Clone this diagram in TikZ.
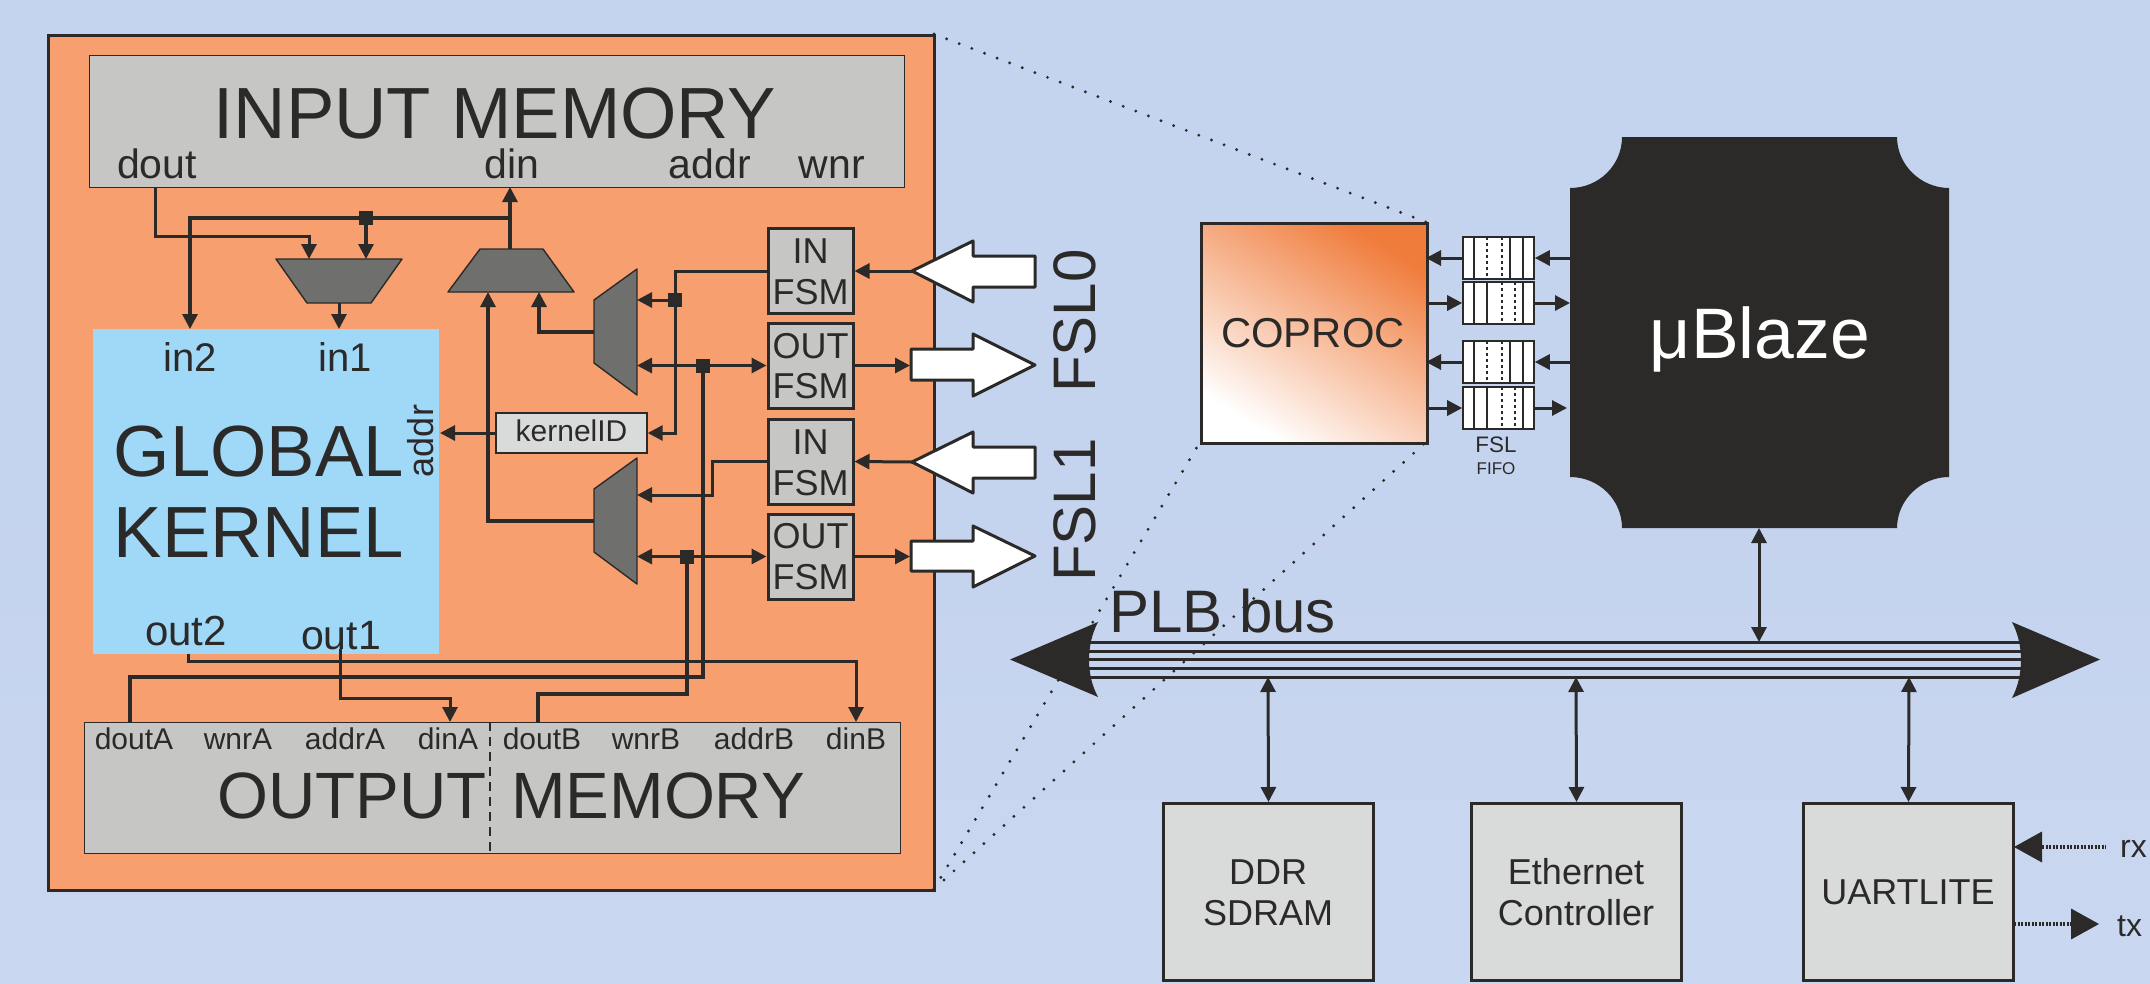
\documentclass[tikz,border=0pt]{standalone}
\usepackage{fontspec}
\setmainfont{Liberation Sans}
\usetikzlibrary{arrows.meta}
\definecolor{bgc}{HTML}{C4D3EE}
\definecolor{bgd}{HTML}{CAD7F0}
\definecolor{orangec}{HTML}{F79F6E}
\definecolor{kern}{HTML}{A0D8F8}
\definecolor{memc}{HTML}{C6C7C5}
\definecolor{boxc}{HTML}{D9DBDA}
\definecolor{muxc}{HTML}{6F6F6E}
\definecolor{ink}{HTML}{2B2A29}
\definecolor{hot}{HTML}{F07C3C}
\newcommand{\fs}[1]{\fontsize{#1pt}{#1pt}\selectfont}
\tikzset{
  x=1pt,y=-1pt,
  wire/.style={draw=ink,line width=3.2pt},
  thin wire/.style={draw=ink,line width=3pt},
  tip/.style={-{Triangle[length=15pt,width=15pt]}},
  tips/.style={{Triangle[length=15pt,width=15pt]}-{Triangle[length=15pt,width=15pt]}},
  mem/.style={draw=ink,line width=1.4pt,fill=memc,inner sep=0pt,rectangle},
  fsm/.style={draw=ink,line width=3pt,fill=memc,inner sep=0pt,rectangle,minimum width=85pt,minimum height=85pt},
  per/.style={draw=ink,line width=3pt,fill=boxc,inner sep=0pt,rectangle,minimum width=210pt,minimum height=177pt,align=center,font=\fs{36}},
  mux/.style={draw=ink,line width=1.4pt,fill=muxc,line join=round},
  dot/.style={fill=ink,inner sep=0pt,minimum size=14pt,rectangle},
  txt/.style={text=ink,inner sep=0pt,anchor=base},
  zoomline/.style={draw=ink,line width=3.2pt,line cap=round,dash pattern=on 0pt off 13.5pt},
  fifo/.style={draw=ink,line width=1.6pt,fill=white,inner sep=0pt,rectangle,minimum width=71pt,minimum height=42pt},
  arrowwhite/.style={draw=ink,line width=3pt,fill=white,line join=round},
}
\begin{document}
\begin{tikzpicture}
\useasboundingbox (0,0) rectangle (2150,983);
\shade[top color=bgc,bottom color=bgd,middle color=bgc] (0,0) rectangle (2150,983);
% outer coprocessor
\node[draw=ink,line width=3.4pt,fill=orangec,inner sep=0pt,rectangle,anchor=north west,minimum width=886pt,minimum height=855pt] (outer) at (46.5,34) {};
% input memory
\node[mem,anchor=north west,minimum width=815pt,minimum height=132pt] (inmem) at (89,55) {};
\node[txt,font=\fs{72.5}] (inmemt) at (495,138) {INPUT MEMORY};
\node[txt,font=\fs{41}] (ldout) at (157,178) {dout};
\node[txt,font=\fs{41}] (ldin) at (512,178) {din};
\node[txt,font=\fs{41}] (laddr) at (710,178) {addr};
\node[txt,font=\fs{41}] (lwnr) at (832,178) {wnr};
% kernel
\node[fill=kern,inner sep=0pt,rectangle,anchor=north west,minimum width=346pt,minimum height=325pt] (kernel) at (93,329) {};
\node[txt,font=\fs{40}] (lin2) at (190,371) {in2};
\node[txt,font=\fs{40}] (lin1) at (345,371) {in1};
\node[txt,font=\fs{72.5},anchor=base west] (kg) at (113.5,476) {GLOBAL};
\node[txt,font=\fs{72.5},anchor=base west] (kk) at (113.5,557) {KERNEL};
\node[txt,font=\fs{36},rotate=90] (kaddr) at (433,441) {addr};
\node[txt,font=\fs{42}] (lout2) at (186,645) {out2};
\node[txt,font=\fs{41}] (lout1) at (341,649) {out1};
% output memory
\node[mem,anchor=north west,minimum width=816pt,minimum height=131pt] (outmem) at (84,722) {};
\draw[draw=ink,line width=2.4pt,dash pattern=on 9pt off 6pt] (490,722) -- (490,853);
\node[txt,font=\fs{65.5}] (ot1) at (352,818) {OUTPUT};
\node[txt,font=\fs{65.5}] (ot2) at (658,818) {MEMORY};
\foreach \t/\x in {doutA/134,wnrA/238,addrA/345,dinA/448,doutB/542,wnrB/646,addrB/754,dinB/856}
  \node[txt,font=\fs{30}] (p\t) at (\x,749) {\t};
% muxes
\draw[mux] (276,259) -- (402,259) -- (371,303) -- (307,303) -- cycle;
\coordinate (m1a) at (309,259); \coordinate (m1b) at (366,259); \coordinate (m1o) at (339,303);
\draw[mux] (480,249) -- (543,249) -- (574,292) -- (448,292) -- cycle;
\coordinate (m2a) at (488,292); \coordinate (m2b) at (539,292); \coordinate (m2o) at (510,249);
\draw[mux] (594,300) -- (637,269) -- (637,395) -- (594,363) -- cycle;
\draw[mux] (594,489) -- (637,458) -- (637,584) -- (594,552) -- cycle;
% fsm
\node[fsm] (f1) at (810.5,271) {};
\node[fsm] (f2) at (810.5,365.5) {};
\node[fsm] (f3) at (810.5,461.5) {};
\node[fsm] (f4) at (810.5,556.5) {};
\node[txt,font=\fs{36}] (t1a) at (810.5,263) {IN};
\node[txt,font=\fs{36}] (t1b) at (810.5,304) {FSM};
\node[txt,font=\fs{36}] (t2a) at (810.5,358) {OUT};
\node[txt,font=\fs{36}] (t2b) at (810.5,398) {FSM};
\node[txt,font=\fs{36}] (t3a) at (810.5,454) {IN};
\node[txt,font=\fs{36}] (t3b) at (810.5,495) {FSM};
\node[txt,font=\fs{36}] (t4a) at (810.5,548) {OUT};
\node[txt,font=\fs{36}] (t4b) at (810.5,589) {FSM};
% kernelID
\node[draw=ink,line width=1.4pt,fill=boxc,inner sep=0pt,rectangle,minimum width=151pt,minimum height=40pt] (kid) at (571.5,433) {};
\node[txt,font=\fs{30}] (kidt) at (571.5,441) {kernelID};
% wires: input memory
\coordinate (kin2) at (190,329); \coordinate (kin1) at (339,329);
\draw[thin wire,tip] (155,187) -- (155,236) -- (309,236) -- (m1a);
\draw[wire,tip] (510,218) -- (190,218) -- (kin2);
\node[dot] (j1) at (366,218) {};
\draw[wire,tip] (j1.center) -- (m1b);
\draw[thin wire,tip] (m1o) -- (kin1);
\draw[wire,tip] (m2o) -- (510,187);
\draw[wire,tip] (594,521) -- (488,521) -- (m2a);
\draw[wire,tip] (594,332) -- (539,332) -- (m2b);
% fsm wires
\draw[thin wire,tip] (f1.west) -- (675,271) -- (675,433) -- (kid.east);
\node[dot] (j2) at (675,300) {};
\draw[thin wire,tip] (j2.center) -- (637,300);
\draw[thin wire,tips] (637,365.5) -- (f2.west);
\node[dot] (j3) at (703,365.5) {};
\draw[wire] (j3.center) -- (703,677) -- (130,677) -- (130,722);
\draw[thin wire,tip] (f3.west) -- (712,461.5) -- (712,495) -- (637,495);
\draw[thin wire,tips] (637,556.5) -- (f4.west);
\node[dot] (j4) at (687,556.5) {};
\draw[wire] (j4.center) -- (687,694) -- (538,694) -- (538,722);
\draw[thin wire,tip] (kid.west) -- (440,433);
\draw[thin wire,tip] (188,654) -- (188,661) -- (856,661) -- (856,722);
\draw[thin wire,tip] (340,649) -- (340,698) -- (450,698) -- (450,722);
% white arrows
\draw[arrowwhite] (912,271) -- (973,241) -- (973,256) -- (1035,256) -- (1035,287) -- (973,287) -- (973,302) -- cycle;
\draw[arrowwhite] (912,462) -- (973,432) -- (973,447) -- (1035,447) -- (1035,478) -- (973,478) -- (973,493) -- cycle;
\draw[arrowwhite] (1035,365) -- (973,334) -- (973,349) -- (911,349) -- (911,380) -- (973,380) -- (973,396) -- cycle;
\draw[arrowwhite] (1035,556) -- (973,526) -- (973,541) -- (911,541) -- (911,571) -- (973,571) -- (973,587) -- cycle;
\coordinate (w1) at (912,271); \coordinate (w2) at (910,365.5); \coordinate (w3) at (912,462); \coordinate (w4) at (910,556.5);
\draw[thin wire,tip] (w1) -- (f1.east);
\draw[thin wire,tip] (f2.east) -- (w2);
\draw[thin wire,tip] (w3) -- (f3.east);
\draw[thin wire,tip] (f4.east) -- (w4);
\node[txt,font=\fs{60},rotate=90] (fsl0) at (1095,321) {FSL0};
\node[txt,font=\fs{60},rotate=90] (fsl1) at (1095,510) {FSL1};
% zoom lines
\draw[zoomline] (934,34) -- (1426,222);
\draw[zoomline] (934,889) -- (1200,442);
\draw[zoomline] (934,889) -- (1426,442);
% coproc
\path[shade,shading=axis,top color=hot,bottom color=white,shading angle=-32] (1200,222) rectangle (1426,442);
\node[draw=ink,line width=3.4pt,inner sep=0pt,rectangle,anchor=north west,minimum width=226pt,minimum height=220pt] (cop) at (1200,222) {};
\node[txt,font=\fs{41.8}] (copt) at (1313,347) {COPROC};
% fifos
\foreach \n/\y in {a/258,c/362}{
  \node[fifo] (fifo\n) at (1498.5,\y) {};
  \draw[ink,line width=1.6pt] (1474,\y-21) -- (1474,\y+21) (1510,\y-21) -- (1510,\y+21) (1523,\y-21) -- (1523,\y+21);
  \draw[ink,line width=1.1pt,dash pattern=on 3pt off 3pt] (1487,\y-21) -- (1487,\y+21) (1502,\y-21) -- (1502,\y+21);
}
\foreach \n/\y in {b/303,d/408}{
  \node[fifo] (fifo\n) at (1498.5,\y) {};
  \draw[ink,line width=1.6pt] (1474,\y-21) -- (1474,\y+21) (1487,\y-21) -- (1487,\y+21) (1523,\y-21) -- (1523,\y+21);
  \draw[ink,line width=1.1pt,dash pattern=on 3pt off 3pt] (1502,\y-21) -- (1502,\y+21) (1515,\y-21) -- (1515,\y+21);
}
\node[txt,font=\fs{22.4}] (lf1) at (1496,452) {FSL};
\node[txt,font=\fs{17}] (lf2) at (1496,474) {FIFO};
% ublaze
\fill[ink] (1622,137) -- (1897,137) .. controls (1897,165) and (1921,188) .. (1949,188)
  -- (1949,477) .. controls (1921,477) and (1897,500) .. (1897,528)
  -- (1622,528) .. controls (1622,500) and (1599,477) .. (1570,477)
  -- (1570,188) .. controls (1599,188) and (1622,165) .. (1622,137) -- cycle;
\coordinate (ub) at (1759,528);
\node[txt,font=\fs{71.5},text=white] (ubt) at (1760,358) {μBlaze};
\coordinate (ubl1) at (1570,258); \coordinate (ubl2) at (1570,303); \coordinate (ubl3) at (1570,362); \coordinate (ubl4) at (1567,408);
\draw[thin wire,tip] (ubl1) -- (fifoa.east);
\draw[thin wire,tip] (fifob.east) -- (ubl2);
\draw[thin wire,tip] (ubl3) -- (fifoc.east);
\draw[thin wire,tip] (fifod.east) -- (ubl4);
\draw[thin wire,tip] (fifoa.west) -- (1426,258);
\draw[thin wire,tip] (1426,303) -- (fifob.west);
\draw[thin wire,tip] (fifoc.west) -- (1426,362);
\draw[thin wire,tip] (1426,408) -- (fifod.west);
% bus
\fill[ink] (1010,659.5) -- (1098,622) .. controls (1086,645) and (1086,675) .. (1098,697) -- cycle;
\fill[ink] (2100,659.5) -- (2012,622) .. controls (2024,645) and (2024,675) .. (2012,698) -- cycle;
\foreach \y in {642,651,659.5,668,677}
  \draw[ink,line width=3pt] (1089,\y) -- (2021,\y);
\coordinate (b1) at (1759,642); \coordinate (b2) at (1268,677); \coordinate (b3) at (1576,677); \coordinate (b4) at (1909,677);
\node[txt,font=\fs{60},anchor=base west] (plb) at (1109,632) {PLB bus};
\node[per] (ddr) at (1268.5,892) {};
\node[per] (eth) at (1576.5,892) {};
\node[per] (uart) at (1908.5,892) {};
\node[txt,font=\fs{36}] (d1) at (1268,884) {DDR};
\node[txt,font=\fs{36}] (d2) at (1268,925) {SDRAM};
\node[txt,font=\fs{36}] (e1) at (1576,884) {Ethernet};
\node[txt,font=\fs{36}] (e2) at (1576,925) {Controller};
\node[txt,font=\fs{36}] (u1) at (1908,904) {UARTLITE};
\draw[thin wire,tips] (b1) -- (ub);
\draw[thin wire,tips] (b2) -- (ddr.north);
\draw[thin wire,tips] (b3) -- (eth.north);
\draw[thin wire,tips] (b4) -- (uart.north);
% rx tx
\coordinate (rxe) at (2106,847); \coordinate (txe) at (2071,924);
\fill[ink] (2014,847) -- (2042,831.5) -- (2042,862.5) -- cycle;
\draw[ink,line width=4pt,dash pattern=on 2pt off 1.5pt] (2042,847) -- (rxe);
\node[txt,font=\fs{32},anchor=base west] (rx) at (2120,857) {rx};
\draw[ink,line width=4pt,dash pattern=on 2pt off 1.5pt] (2014,924) -- (txe);
\fill[ink] (2099,924) -- (2071,908.5) -- (2071,939.5) -- cycle;
\node[txt,font=\fs{32},anchor=base west] (tx) at (2117,936) {tx};
\end{tikzpicture}
\end{document}
